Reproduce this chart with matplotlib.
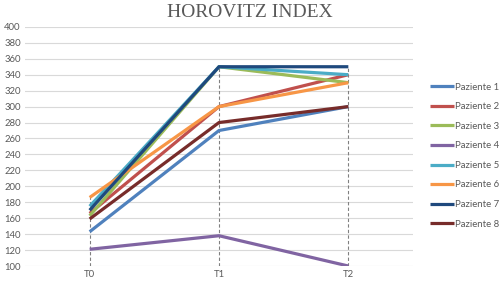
import matplotlib.pyplot as plt

categories = ["T0", "T1", "T2"]
patients = ["Paziente 1", "Paziente 2", "Paziente 3", "Paziente 4",
            "Paziente 5", "Paziente 6", "Paziente 7", "Paziente 8"]
p1 = [143, 270, 300]
p2 = [166, 300, 340]
p3 = [163, 350, 330]
p4 = [121, 138, 100]
p5 = [175, 350, 340]
p6 = [186, 300, 330]
p7 = [170, 350, 350]
p8 = [159, 280, 300]
series = [p1, p2, p3, p4, p5, p6, p7, p8]
colors = ["#4F81BD", "#C0504D", "#9BBB59", "#8064A2",
          "#4BACC6", "#F79646", "#1F497D", "#772C2A"]

plt.rcParams["font.family"] = ["Lato", "DejaVu Sans"]

fig = plt.figure(figsize=(5, 2.83), dpi=100)
ax = fig.add_axes([0.05, 0.06, 0.776, 0.845])

x = range(len(categories))

# drop lines from the highest point down to the axis
for i in x:
    top = max(s[i] for s in series)
    ax.plot([i, i], [100, top], color="#808080", lw=0.8, ls=(0, (3, 2)), zorder=1)

for name, vals, c in zip(patients, series, colors):
    ax.plot(x, vals, color=c, lw=2.3, label=name, solid_capstyle="butt", zorder=2)

ax.set_xlim(-0.5, 2.5)
ax.set_ylim(100, 400)
ax.set_yticks(range(100, 401, 20))
ax.set_xticks(list(x))
ax.set_xticklabels(categories)
ax.grid(axis="y", color="#D9D9D9", lw=0.8)
ax.set_axisbelow(True)
for s in ax.spines.values():
    s.set_visible(False)
ax.tick_params(length=0, labelsize=6.8, colors="#595959", pad=3)

fig.text(0.5, 0.955, "HOROVITZ INDEX", ha="center", va="center",
         family="Liberation Serif", fontsize=14, color="#595959")

fig.legend(loc="center left", bbox_to_anchor=(0.86, 0.45), frameon=False,
           fontsize=6.9, handlelength=2.5, handletextpad=0.15, labelspacing=1.1,
           labelcolor="#595959", borderaxespad=0, borderpad=0)

fig.savefig("out.png", dpi=100)
